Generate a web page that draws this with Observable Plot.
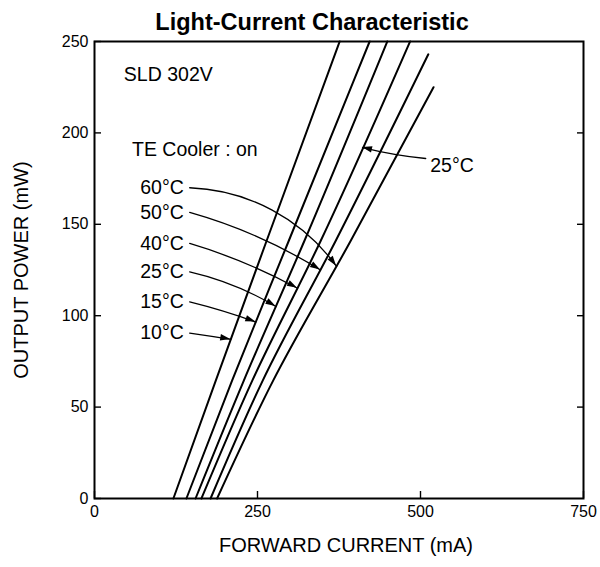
<!DOCTYPE html>
<html>
<head>
<meta charset="utf-8">
<script src="https://cdn.jsdelivr.net/npm/d3@7"></script>
<script src="https://cdn.jsdelivr.net/npm/@observablehq/plot@0.6"></script>
<style>
  body { margin: 0; background: #fff; }
</style>
</head>
<body>
<div id="chart"></div>
<script>
// Light–current curves of the SLD 302V at several case temperatures (TE cooler on).
const temperatures = ["10°C", "15°C", "25°C", "40°C", "50°C", "60°C"];

// Forward current (mA) and output power (mW) samples along each curve
const current10 = [121, 186, 264, 376];
const power10   = [0, 64.5, 141, 250];
const current15 = [141, 211, 298, 422];
const power15   = [0, 64.5, 141, 250];
const current25 = [155, 229, 322, 449];
const power25   = [0, 64.5, 141, 250];
const current40 = [164, 242, 347, 484];
const power40   = [0, 64.5, 141, 250];
const current50 = [178, 258, 370, 512];
const power50   = [0, 64.5, 141, 243];
const current60 = [188, 274, 393, 520];
const power60   = [0, 64.5, 141, 225];

// Axis ticks
const xTicks = [0, 250, 500, 750];
const yTicks = [0, 50, 100, 150, 200, 250];

// Callout labels: label height (mW), power where each arrow meets its curve, arc bend
const labelPower = [90.5, 107.5, 124, 139.5, 156.5, 170];
const tipPower = [87, 96.5, 105, 115, 125, 127];
const arrowBend = [1, 3, 9, 6, 8, 26];
const labelCurrentEnd = 137;
const arrowStartCurrent = 146;

// Extra callout on the right side
const sideLabel = "25°C";
const sideLabelAt = [515, 182];
const sideArrowFrom = [508, 186];
const sideTipPower = 192;
const sideSeries = 3;

const series = [
  {name: temperatures[0], current: current10, power: power10},
  {name: temperatures[1], current: current15, power: power15},
  {name: temperatures[2], current: current25, power: power25},
  {name: temperatures[3], current: current40, power: power40},
  {name: temperatures[4], current: current50, power: power50},
  {name: temperatures[5], current: current60, power: power60}
];

const rows = series.flatMap(s => s.current.map((c, i) => ({series: s.name, current: c, power: s.power[i]})));

// Current on a curve at a given power, following its segments
function currentAt(s, p) {
  for (let i = 1; i < s.power.length; i++) {
    if (p <= s.power[i]) {
      const t = (p - s.power[i - 1]) / (s.power[i] - s.power[i - 1]);
      return s.current[i - 1] + t * (s.current[i] - s.current[i - 1]);
    }
  }
  return s.current[s.current.length - 1];
}

const callouts = temperatures.map((t, i) => ({
  label: t,
  lx: labelCurrentEnd,
  ly: labelPower[i],
  x1: arrowStartCurrent,
  y1: labelPower[i],
  x2: currentAt(series[i], tipPower[i]),
  y2: tipPower[i],
  bend: arrowBend[i]
}));
const sideCallout = {
  label: sideLabel,
  lx: sideLabelAt[0],
  ly: sideLabelAt[1],
  x1: sideArrowFrom[0],
  y1: sideArrowFrom[1],
  x2: currentAt(series[sideSeries], sideTipPower),
  y2: sideTipPower,
  bend: 4
};
const arrows = [...callouts, sideCallout];

const font = "Liberation Sans, Arial, Helvetica, sans-serif";

// Filled arrowheads aligned with the end tangent of each bent arc
function arrowHeads(index, scales) {
  const g = d3.create("svg:g");
  for (const c of arrows) {
    const X1 = scales.x(c.x1), Y1 = scales.y(c.y1);
    const X2 = scales.x(c.x2), Y2 = scales.y(c.y2);
    const a = Math.atan2(Y2 - Y1, X2 - X1) + c.bend * Math.PI / 180;
    const L = 10, W = 3.2;
    const bx = X2 - L * Math.cos(a), by = Y2 - L * Math.sin(a);
    const nx = -Math.sin(a) * W, ny = Math.cos(a) * W;
    g.append("path")
      .attr("d", `M${X2},${Y2}L${bx + nx},${by + ny}L${bx - nx},${by - ny}Z`)
      .attr("fill", "black");
  }
  return g.node();
}

const chart = Plot.plot({
  width: 600,
  height: 567,
  marginLeft: 94,
  marginRight: 17,
  marginTop: 41,
  marginBottom: 69,
  style: {fontFamily: font, fontSize: "16px", color: "black", background: "white"},
  x: {domain: [0, 750]},
  y: {domain: [0, 250]},
  marks: [
    Plot.axisY({ticks: yTicks, tickSize: -7, tickPadding: 13, label: null, strokeWidth: 1.4}),
    Plot.axisY({anchor: "right", ticks: [50, 100, 150, 200], tickSize: -7, tickFormat: () => "", label: null, strokeWidth: 1.4}),
    Plot.axisX({ticks: xTicks, tickSize: -7, tickPadding: 14, label: null, strokeWidth: 1.4}),
    Plot.frame({stroke: "black", strokeWidth: 2}),
    Plot.line(rows, {x: "current", y: "power", z: "series", stroke: "black", strokeWidth: 2, curve: "monotone-y"}),
    ...arrows.map(c => Plot.arrow([c], {
      x1: "x1", y1: "y1", x2: "x2", y2: "y2",
      bend: c.bend, headLength: 0, stroke: "black", strokeWidth: 1.3
    })),
    arrowHeads,
    Plot.text(callouts, {x: "lx", y: "ly", text: "label", textAnchor: "end", fontSize: 19.5}),
    Plot.text([sideCallout], {x: "lx", y: "ly", text: "label", textAnchor: "start", fontSize: 19.5}),
    Plot.text(["TE Cooler : on"], {x: () => 57.5, y: () => 191, text: d => d, textAnchor: "start", fontSize: 19.5}),
    Plot.text(["SLD 302V"], {x: () => 45, y: () => 232, text: d => d, textAnchor: "start", fontSize: 19.5}),
    Plot.text(["Light-Current Characteristic"], {
      frameAnchor: "top", dy: -28, dx: -27, text: d => d,
      fontSize: 23.5, fontWeight: "bold"
    }),
    Plot.text(["FORWARD CURRENT (mA)"], {frameAnchor: "bottom", dy: 53, dx: 7, text: d => d, fontSize: 20}),
    Plot.text(["OUTPUT POWER (mW)"], {frameAnchor: "left", dx: -73, rotate: -90, textAnchor: "middle", text: d => d, fontSize: 20})
  ]
});

document.getElementById("chart").append(chart);
</script>
</body>
</html>
